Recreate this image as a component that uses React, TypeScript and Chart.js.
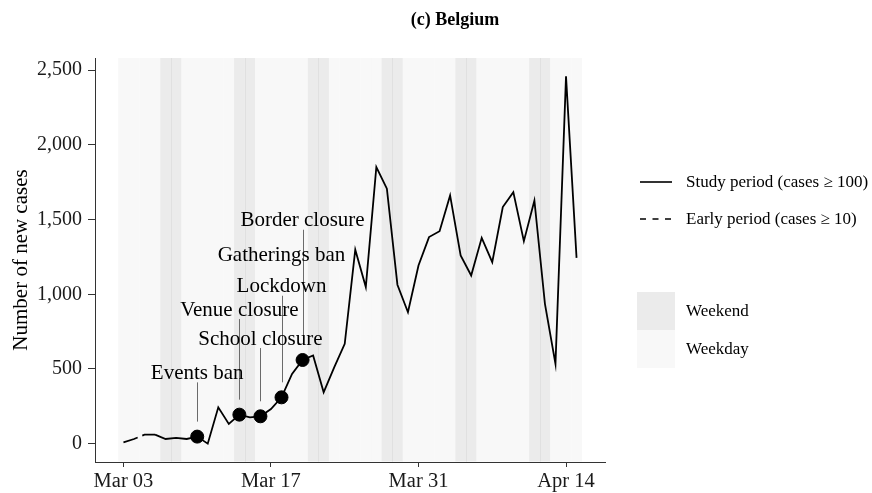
import React, { useEffect, useRef } from "react";
import { Chart, registerables } from "chart.js";

Chart.register(...registerables);

// ---- data ----
const dates = [
  "Mar 03", "Mar 04", "Mar 05", "Mar 06", "Mar 07", "Mar 08", "Mar 09", "Mar 10", "Mar 11", "Mar 12",
  "Mar 13", "Mar 14", "Mar 15", "Mar 16", "Mar 17", "Mar 18", "Mar 19", "Mar 20", "Mar 21", "Mar 22",
  "Mar 23", "Mar 24", "Mar 25", "Mar 26", "Mar 27", "Mar 28", "Mar 29", "Mar 30", "Mar 31", "Apr 01",
  "Apr 02", "Apr 03", "Apr 04", "Apr 05", "Apr 06", "Apr 07", "Apr 08", "Apr 09", "Apr 10", "Apr 11",
  "Apr 12", "Apr 13", "Apr 14", "Apr 15",
];
const newCases = [
  9, 31, 60, 60, 31, 38, 31, 47, 0, 243,
  132, 194, 176, 183, 232, 310, 467, 560, 590, 344,
  511, 668, 1298, 1048, 1852, 1707, 1064, 880, 1193, 1383,
  1422, 1662, 1260, 1126, 1378, 1215, 1584, 1684, 1356, 1628,
  936, 534, 2459, 1244,
];
const weekendDates = [
  "Mar 07", "Mar 08", "Mar 14", "Mar 15", "Mar 21", "Mar 22",
  "Mar 28", "Mar 29", "Apr 04", "Apr 05", "Apr 11", "Apr 12",
];
const earlyStart = "Mar 03";
const studyStart = "Mar 06";
const xTickDates = ["Mar 03", "Mar 17", "Mar 31", "Apr 14"];
const yTickValues = [0, 500, 1000, 1500, 2000, 2500];

const eventNames = ["Events ban", "Venue closure", "School closure", "Lockdown", "Gatherings ban", "Border closure"];
const eventDates = ["Mar 10", "Mar 14", "Mar 16", "Mar 18", "Mar 20", "Mar 20"];
// label placement (repelled labels): centre date and centre value
const labelDates = ["Mar 10", "Mar 14", "Mar 16", "Mar 18", "Mar 18", "Mar 20"];
const labelValues = [477, 901, 707, 1057, 1269, 1499];

const legendLineLabels = ["Study period (cases \u2265 100)", "Early period (cases \u2265 10)"];
const legendFillLabels = ["Weekend", "Weekday"];

const TITLE = "(c) Belgium";
const Y_TITLE = "Number of new cases";

const SERIF = "'Liberation Serif', 'Times New Roman', serif";
const WEEKEND_COL = "#ebebeb";
const WEEKDAY_COL = "#f8f8f8";

export default function App() {
  const ref = useRef<HTMLCanvasElement | null>(null);

  useEffect(() => {
    const canvas = ref.current;
    if (!canvas) return;

    const idx = (d: string) => dates.indexOf(d);
    const early = newCases.map((v, i) => ({ x: i, y: i >= idx(earlyStart) && i <= idx(studyStart) ? v : null }));
    const study = newCases.map((v, i) => ({ x: i, y: i >= idx(studyStart) ? v : null }));
    const uniqueEventDates = Array.from(new Set(eventDates));
    const markers = uniqueEventDates.map((d) => ({ x: idx(d), y: newCases[idx(d)] }));

    const tilesPlugin = {
      id: "tiles",
      beforeDatasetsDraw(chart: any) {
        const { ctx, chartArea, scales } = chart;
        const xs = scales.x;
        const top = chartArea.top;
        const bottom = chartArea.bottom - 0.5;
        ctx.save();
        dates.forEach((d, i) => {
          const x0 = xs.getPixelForValue(i - 0.5);
          const x1 = xs.getPixelForValue(i + 0.5);
          ctx.fillStyle = weekendDates.includes(d) ? WEEKEND_COL : WEEKDAY_COL;
          ctx.fillRect(x0, top, x1 - x0 + 0.3, bottom - top);
        });
        // faint seam inside each weekend band
        for (let i = 1; i < dates.length; i++) {
          const a = weekendDates.includes(dates[i - 1]);
          const b = weekendDates.includes(dates[i]);
          if (!(a && b)) continue;
          const xb = Math.round(xs.getPixelForValue(i - 0.5)) + 0.5;
          ctx.strokeStyle = "#e0e0e0";
          ctx.lineWidth = 1;
          ctx.beginPath();
          ctx.moveTo(xb, top);
          ctx.lineTo(xb, bottom);
          ctx.stroke();
        }
        // annotation segments
        const ys = scales.y;
        ctx.strokeStyle = "#6b6b6b";
        ctx.lineWidth = 1;
        eventNames.forEach((name, k) => {
          const pi = idx(eventDates[k]);
          const px = Math.round(xs.getPixelForValue(pi)) + 0.5;
          const py = ys.getPixelForValue(newCases[pi]);
          const ly = ys.getPixelForValue(labelValues[k]);
          ctx.beginPath();
          ctx.moveTo(px, ly + 10);
          ctx.lineTo(px, py - 15);
          ctx.stroke();
        });
        ctx.restore();
      },
      afterDatasetsDraw(chart: any) {
        const { ctx, scales } = chart;
        const xs = scales.x;
        const ys = scales.y;
        ctx.save();
        ctx.fillStyle = "#000";
        ctx.font = `21px ${SERIF}`;
        ctx.textAlign = "center";
        ctx.textBaseline = "middle";
        eventNames.forEach((name, k) => {
          const lx = xs.getPixelForValue(idx(labelDates[k]));
          const ly = ys.getPixelForValue(labelValues[k]);
          ctx.fillText(name, lx, ly + 1);
        });
        ctx.restore();
      },
      afterDraw(chart: any) {
        const { ctx, chartArea } = chart;
        ctx.save();
        // title
        ctx.fillStyle = "#000";
        ctx.font = `bold 18px ${SERIF}`;
        ctx.textAlign = "center";
        ctx.textBaseline = "alphabetic";
        ctx.fillText(TITLE, 455, 25);
        // y title
        ctx.font = `21px ${SERIF}`;
        ctx.translate(27, (chartArea.top + chartArea.bottom) / 2);
        ctx.rotate(-Math.PI / 2);
        ctx.textAlign = "center";
        ctx.fillText(Y_TITLE, 0, 0);
        ctx.restore();

        // legend
        ctx.save();
        ctx.font = `17px ${SERIF}`;
        ctx.fillStyle = "#000";
        ctx.textAlign = "left";
        ctx.textBaseline = "middle";
        const ly = [182, 219];
        legendLineLabels.forEach((t, k) => {
          ctx.strokeStyle = "#000";
          ctx.lineWidth = 1.6;
          ctx.setLineDash(k === 0 ? [] : [6, 6.5]);
          ctx.beginPath();
          ctx.moveTo(640, ly[k]);
          ctx.lineTo(672, ly[k]);
          ctx.stroke();
          ctx.setLineDash([]);
          ctx.fillText(t, 686, ly[k] + 1);
        });
        const fy = [292, 330];
        legendFillLabels.forEach((t, k) => {
          ctx.fillStyle = k === 0 ? WEEKEND_COL : WEEKDAY_COL;
          ctx.fillRect(637, fy[k], 38, 38);
          ctx.fillStyle = "#000";
          ctx.fillText(t, 686, fy[k] + 20);
        });
        ctx.restore();
      },
    };

    const chart = new Chart(canvas, {
      type: "line",
      data: {
        datasets: [
          {
            type: "scatter",
            data: markers,
            pointRadius: 6.5,
            pointHoverRadius: 6.5,
            backgroundColor: "#000",
            borderColor: "#000",
            showLine: false,
            order: 0,
          } as any,
          {
            data: study,
            borderColor: "#000",
            borderWidth: 1.8,
            pointRadius: 0,
            tension: 0,
            spanGaps: false,
            order: 1,
          },
          {
            data: early,
            borderColor: "#000",
            borderWidth: 1.8,
            borderDash: [15, 5],
            pointRadius: 0,
            tension: 0,
            spanGaps: false,
            order: 2,
          },
        ],
      },
      options: {
        responsive: false,
        animation: false,
        devicePixelRatio: 1,
        layout: { padding: { top: 58, right: 267, left: 0, bottom: 0 } },
        plugins: { legend: { display: false }, tooltip: { enabled: false }, title: { display: false } },
        scales: {
          x: {
            type: "linear",
            min: -2.7,
            max: 45.7,
            position: "bottom",
            afterFit: (s: any) => {
              s.height = 31;
            },
            afterBuildTicks: (s: any) => {
              s.ticks = xTickDates.map((d) => ({ value: dates.indexOf(d) }));
            },
            ticks: {
              autoSkip: false,
              maxRotation: 0,
              minRotation: 0,
              padding: 2,
              color: "#1a1a1a",
              font: { family: SERIF, size: 20.5 },
              callback: (v: any) => dates[v as number],
            },
            grid: { display: true, drawOnChartArea: false, drawTicks: true, tickLength: 5, color: "#333", lineWidth: 1 },
            border: { display: true, color: "#333", width: 1 },
          },
          y: {
            type: "linear",
            min: -123,
            max: 2582,
            afterFit: (s: any) => {
              s.width = 95;
            },
            afterBuildTicks: (s: any) => {
              s.ticks = yTickValues.map((v) => ({ value: v }));
            },
            ticks: {
              padding: 6,
              color: "#1a1a1a",
              font: { family: SERIF, size: 20 },
              callback: (v: any) => Number(v).toLocaleString("en-US"),
            },
            grid: { display: true, drawOnChartArea: false, drawTicks: true, tickLength: 7, color: "#333", lineWidth: 1 },
            border: { display: true, color: "#333", width: 1 },
          },
        },
      },
      plugins: [tilesPlugin],
    });

    return () => chart.destroy();
  }, []);

  return (
    <div style={{ position: "absolute", left: 0, top: 0, width: 872, height: 493, background: "#fff" }}>
      <canvas ref={ref} width={872} height={493} style={{ display: "block", width: 872, height: 493 }} />
    </div>
  );
}
